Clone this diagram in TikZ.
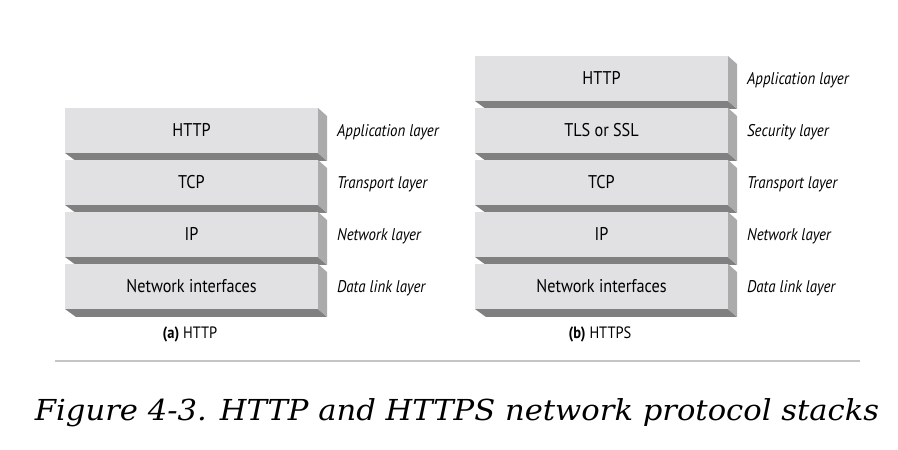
\documentclass[tikz,border=0pt]{standalone}
\usepackage{fontspec}
\newfontfamily\boxfont[FakeStretch=0.88]{PT Sans}
\newfontfamily\capfont[FakeStretch=1.06]{DejaVu Serif}
\definecolor{facegray}{HTML}{E1E1E3}
\definecolor{sidegray}{HTML}{ABABAB}
\definecolor{botgray}{HTML}{808080}
\definecolor{rulegray}{HTML}{C4C4C4}
\tikzset{
  frontface/.style={fill=facegray, draw=none, minimum width=253bp, minimum height=45bp, inner sep=0, outer sep=0},
  sideface/.style={fill=sidegray},
  bottomface/.style={fill=botgray},
  boxtext/.style={font=\boxfont\fontsize{18.5}{20}\selectfont, anchor=base, inner sep=0},
  laytext/.style={font=\boxfont\itshape\fontsize{17}{20}\selectfont, anchor=base west, inner sep=0},
  subcap/.style={font=\boxfont\fontsize{16.5}{18}\selectfont, anchor=base, inner sep=0},
  figcap/.style={font=\capfont\itshape\fontsize{29}{32}\selectfont, anchor=base, inner sep=0},
}
\newcommand\layerbox[5]{%
  \fill[bottomface] (#2,#3+45) -- ++(253,0) -- ++(9,8) -- ++(-251,0) -- cycle;
  \fill[sideface] (#2+253,#3) -- ++(9,8) -- ++(0,45) -- ++(-9,-8) -- cycle;
  \node[frontface] (#1) at (#2+126.5,#3+22.5) {};
  \node[boxtext] (#1t) at (#2+126.5,#3+29) {#4};
  \node[laytext] (#1l) at (#2+272,#3+28.5) {#5};
}
\begin{document}
\begin{tikzpicture}[x=1bp,y=-1bp]
\useasboundingbox (0,0) rectangle (898,450);
% (a) HTTP
\layerbox{ahttp}{65}{108}{HTTP}{Application layer}
\layerbox{atcp}{65}{160}{TCP}{Transport layer}
\layerbox{aip}{65}{212}{IP}{Network layer}
\layerbox{ani}{65}{264}{Network interfaces}{Data link layer}
\node[subcap] (acap) at (190,339) {\textbf{(a)} HTTP};
% (b) HTTPS
\layerbox{bhttp}{475}{56}{HTTP}{Application layer}
\layerbox{btls}{475}{108}{TLS or SSL}{Security layer}
\layerbox{btcp}{475}{160}{TCP}{Transport layer}
\layerbox{bip}{475}{212}{IP}{Network layer}
\layerbox{bni}{475}{264}{Network interfaces}{Data link layer}
\node[subcap] (bcap) at (600,339) {\textbf{(b)} HTTPS};
% rule
\coordinate (rl) at (55,361);
\coordinate (rr) at (860,361);
\draw[rulegray, line width=1.5bp] (rl) -- (rr);
\node[figcap] (fig) at (457,420) {Figure 4-3. HTTP and HTTPS network protocol stacks};
\end{tikzpicture}
\end{document}
